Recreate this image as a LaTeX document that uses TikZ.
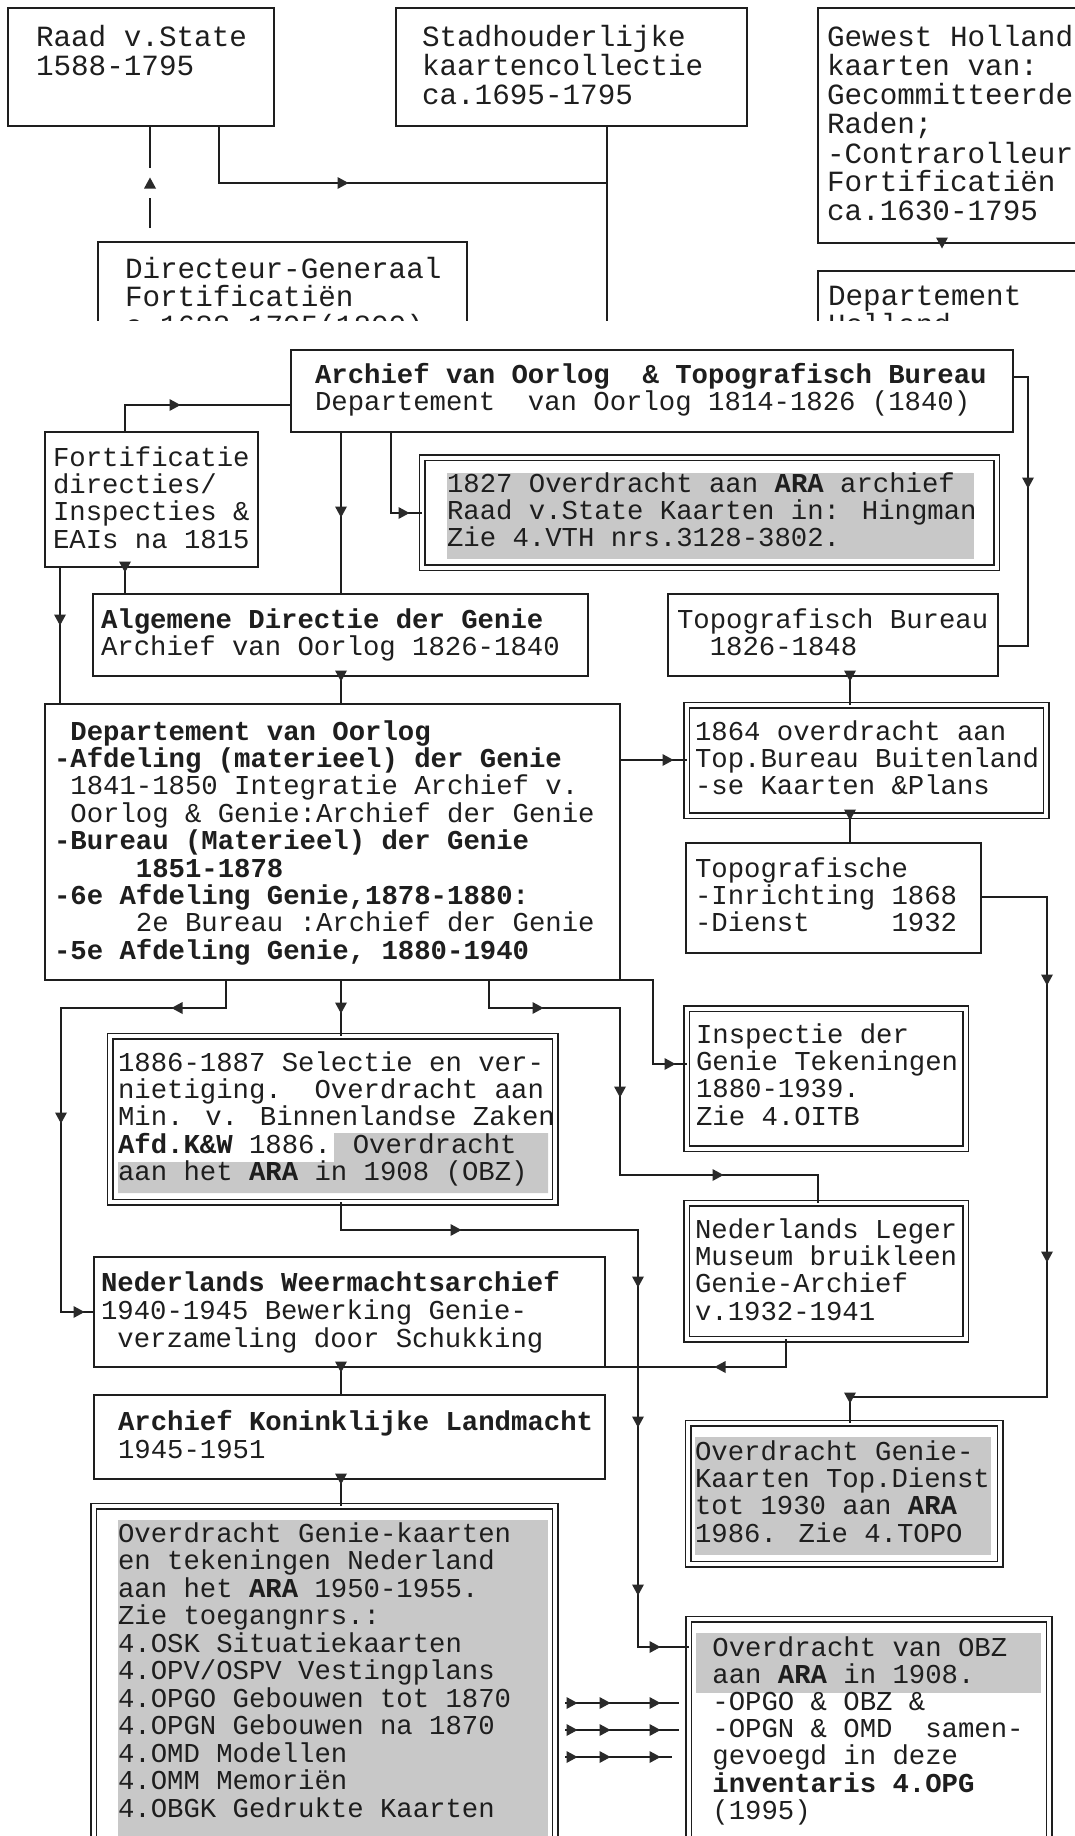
\documentclass[tikz,border=0pt]{standalone}
\usepackage{fontspec}
\newfontfamily\cour{Liberation Mono}
\definecolor{lc}{HTML}{1E1E1E}
\definecolor{tipc}{HTML}{2A2A2A}
\definecolor{shdc}{HTML}{C8C8C8}
\newcommand\mkbox[6][box]{\node[#1, minimum width={(#5-#3)*1pt}, minimum height={(#6-#4)*1pt}] (#2) at (#3,#4) {};}
\newcommand\TBlock[2][27.4]{\vtop{\baselineskip=#1pt\lineskiplimit=-1000pt\lineskip=0pt #2}}
\newcommand\Lline[1]{\hbox{#1}}
\tikzset{
 box/.style={draw=lc, line width=2pt, anchor=north west, inner sep=0pt, outer sep=0pt},
 dbox/.style={box, line width=1.5pt, double=white, double distance=4pt},
 conn/.style={draw=lc, line width=1.8pt},
 shd/.style={fill=shdc},
 txt/.style={anchor=base west, inner sep=0pt, outer sep=0pt, text=lc, font=\cour\fontsize{27.3pt}{27.4pt}\selectfont},
 txtbig/.style={txt, font=\cour\fontsize{29.3pt}{29pt}\selectfont},
 td/.pic={\fill[tipc] (0,5.5) -- (-6,-5.5) -- (6,-5.5) -- cycle;},
 tu/.pic={\fill[tipc] (0,-5.5) -- (-6,5.5) -- (6,5.5) -- cycle;},
 tr/.pic={\fill[tipc] (5.5,0) -- (-5.5,-6) -- (-5.5,6) -- cycle;},
 tl/.pic={\fill[tipc] (-5.5,0) -- (5.5,-6) -- (5.5,6) -- cycle;},
}
\begin{document}
\begin{tikzpicture}[x=1pt,y=-1pt]
\useasboundingbox (0,0) rectangle (1075,1836);
\clip (0,0) rectangle (1075,1836);
\fill[white] (0,0) rectangle (1075,1836);

% ---------------- top fragment ----------------
\begin{scope}
\clip (0,0) rectangle (1075,320);
\mkbox{raad}{8}{8}{274}{126}
\mkbox{stad}{396}{8}{747}{126}
\mkbox{gew}{818}{8}{1090}{243}
\mkbox{dir}{98}{242}{467}{420}
\mkbox{deph}{818}{271}{1090}{420}
\draw[conn] (raad.south -| 150,0) -- (150,168);
\draw[conn] (dir.north -| 150,0) ++(0,-14) -- (150,198);
\draw[conn] (raad.south -| 219,0) |- (607,183);
\draw[conn] (stad.south -| 607,0) -- (607,330);
\pic at (150,183) {tu};
\pic at (343,183) {tr};
\pic at (942,243) {td};
\node[txtbig] (traad) at (36,47) {\TBlock[29]{\Lline{Raad v.State}\Lline{1588-1795}}};
\node[txtbig] (tstad) at (422,47) {\TBlock[29]{\Lline{Stadhouderlijke}\Lline{kaartencollectie}\Lline{ca.1695-1795}}};
\node[txtbig] (tgew) at (827,47) {\TBlock[29]{\Lline{Gewest Holland}\Lline{kaarten van:}\Lline{Gecommitteerde}\Lline{Raden;}\Lline{-Contrarolleur}\Lline{Fortificatiën}\Lline{ca.1630-1795}}};
\node[txtbig] (tdir) at (125,278) {\TBlock[28.5]{\Lline{Directeur-Generaal}\Lline{Fortificatiën}\Lline{c.1688-1795(1800)}}};
\node[txtbig] (tdeph) at (828,305) {\TBlock[29]{\Lline{Departement}\Lline{Holland}}};
\end{scope}

% ---------------- shading ----------------
\fill[shd] (447,473) rectangle (974,559);
\fill[shd] (334,1133) -- (548,1133) -- (548,1193) -- (118,1193) -- (118,1162) -- (334,1162) -- cycle;
\fill[shd] (695,1437) rectangle (991,1555);
\fill[shd] (118,1520) rectangle (548,1900);
\fill[shd] (696,1633) rectangle (1041,1693);

% ---------------- boxes ----------------
\mkbox{avo}{291}{350}{1013}{432}
\mkbox{fort}{45}{432}{258}{567}
\mkbox[dbox]{b1827}{422.3}{457.8}{996.8}{567.5}
\mkbox{alg}{93}{594}{588}{676}
\mkbox{tb}{668}{594}{998}{676}
\mkbox{dep}{45}{704}{620}{980}
\mkbox[dbox]{b1864}{686.5}{705}{1046}{815.5}
\mkbox{tpf}{686}{843}{981}{953}
\mkbox[dbox]{b1886}{110.4}{1036}{555}{1202}
\mkbox[dbox]{insp}{686.5}{1008.5}{965.5}{1148.5}
\mkbox[dbox]{nlm}{686.5}{1203}{965.5}{1339}
\mkbox{weer}{94}{1257}{605}{1367}
\mkbox{akl}{94}{1395}{605}{1479}
\mkbox[dbox]{big}{93.6}{1506}{555}{1900}
\mkbox[dbox]{ot}{688}{1423}{1000}{1564}
\mkbox[dbox]{fin}{688.5}{1619}{1049}{1900}

% ---------------- connectors ----------------
\draw[conn] ([xshift=80pt]fort.north west) |- (avo.west |- 0,405);
\draw[conn] (avo.east |- 0,377) -- (1028,377) |- (tb.east |- 0,646);
\draw[conn] (avo.south -| 341,0) -- (alg.north -| 341,0);
\draw[conn] (avo.south -| 391,0) |- (b1827.west |- 0,513);
\draw[conn] (fort.south -| 125,0) -- (alg.north -| 125,0);
\draw[conn] (fort.south -| 60,0) -- (dep.north -| 60,0);
\draw[conn] (alg.south -| 341,0) -- (dep.north -| 341,0);
\draw[conn] (tb.south -| 850,0) -- (b1864.north -| 850,0);
\draw[conn] (dep.east |- 0,760) -- (b1864.west |- 0,760);
\draw[conn] (b1864.south -| 850,0) -- (tpf.north -| 850,0);
\draw[conn] (tpf.east |- 0,897) -- (1047,897) -- (1047,1397) -| (ot.north -| 850,0);
\draw[conn] (dep.south -| 226,0) |- (61,1008) |- (weer.west |- 0,1312);
\draw[conn] (dep.south -| 341,0) -- (b1886.north -| 341,0);
\draw[conn] (dep.south -| 489,0) |- (620,1008) |- (818,1175) -- (nlm.north -| 818,0);
\draw[conn] (dep.south east) -- (653,980) |- (insp.west |- 0,1064);
\draw[conn] (b1886.south -| 341,0) |- (638,1230) |- (fin.west |- 0,1647);
\draw[conn] (nlm.south -| 786,0) |- (weer.south east);
\draw[conn] (weer.south -| 341,0) -- (akl.north -| 341,0);
\draw[conn] (akl.south -| 341,0) -- (big.north -| 341,0);
\foreach \yy/\xe in {1703/679,1730/679,1757/672}
  \draw[conn] (big.east |- 0,\yy) ++(10,0) -- (\xe,\yy);

% ---------------- arrow marks ----------------
\pic at (175,405) {tr};
\pic at (1028,483) {td};
\pic at (341,512) {td};
\pic at (404,513) {tr};
\pic at (125,567) {td};
\pic at (60,620) {td};
\pic at (341,676) {td};
\pic at (850,676) {td};
\pic at (668,760) {tr};
\pic at (850,815) {td};
\pic at (1047,980) {td};
\pic at (1047,1257) {td};
\pic at (850,1398) {td};
\pic at (177,1008) {tl};
\pic at (61,1118) {td};
\pic at (79,1312) {tr};
\pic at (341,1008) {td};
\pic at (538,1008) {tr};
\pic at (620,1092) {td};
\pic at (718,1175) {tr};
\pic at (670,1064) {tr};
\pic at (456,1230) {tr};
\pic at (638,1282) {td};
\pic at (638,1422) {td};
\pic at (638,1590) {td};
\pic at (655,1647) {tr};
\pic at (720,1367) {tl};
\pic at (341,1367) {td};
\pic at (341,1479) {td};
\foreach \yy in {1703,1730,1757} {
  \pic at (572,\yy) {tr};
  \pic at (605,\yy) {tr};
  \pic at (655,\yy) {tr};
}

% ---------------- texts ----------------
\node[txt] (tavo) at (315,383) {\TBlock{\Lline{\bfseries Archief van Oorlog~~\&~Topografisch Bureau}\Lline{Departement~~van Oorlog 1814-1826 (1840)}}};
\node[txt] (tfort) at (53,466) {\TBlock{\Lline{Fortificatie}\Lline{directies/}\Lline{Inspecties \&}\Lline{EAIs na 1815}}};
\node[txt] (tb1827) at (447,492) {\TBlock{\Lline{1827 Overdracht aan \textbf{ARA} archief}\Lline{Raad v.State Kaarten in: Hingman}\Lline{Zie 4.VTH nrs.3128-3802.}}};
\node[txt] (talg) at (101,628) {\TBlock{\Lline{\bfseries Algemene Directie der Genie}\Lline{Archief van Oorlog 1826-1840}}};
\node[txt] (ttb) at (677,628) {\TBlock{\Lline{Topografisch Bureau}\Lline{~~1826-1848}}};
\node[txt] (tdep) at (54,740) {\TBlock{%
 \Lline{\bfseries ~Departement van Oorlog}%
 \Lline{\bfseries -Afdeling (materieel) der Genie}%
 \Lline{~1841-1850 Integratie Archief v.}%
 \Lline{~Oorlog \& Genie:Archief der Genie}%
 \Lline{\bfseries -Bureau (Materieel) der Genie}%
 \Lline{\bfseries ~~~~~1851-1878}%
 \Lline{\bfseries -6e Afdeling Genie,1878-1880:}%
 \Lline{~~~~~2e Bureau :Archief der Genie}%
 \Lline{\bfseries -5e Afdeling Genie, 1880-1940}}};
\node[txt] (tb1864) at (695,740) {\TBlock{\Lline{1864 overdracht aan}\Lline{Top.Bureau Buitenland}\Lline{-se Kaarten \&Plans}}};
\node[txt] (ttpf) at (695,877) {\TBlock{\Lline{Topografische}\Lline{-Inrichting 1868}\Lline{-Dienst~~~~~1932}}};
\node[txt] (tinsp) at (696,1043) {\TBlock{\Lline{Inspectie der}\Lline{Genie Tekeningen}\Lline{1880-1939.}\Lline{Zie 4.OITB}}};
\node[txt] (tb1886) at (118,1071) {\TBlock{\Lline{1886-1887 Selectie en ver-}\Lline{nietiging.~~Overdracht aan}\Lline{Min. v. Binnenlandse Zaken}\Lline{\textbf{Afd.K\&W} 1886. Overdracht}\Lline{aan het \textbf{ARA} in 1908 (OBZ)}}};
\node[txt] (tnlm) at (695,1238) {\TBlock{\Lline{Nederlands Leger}\Lline{Museum bruikleen}\Lline{Genie-Archief}\Lline{v.1932-1941}}};
\node[txt] (tweer) at (101,1291) {\TBlock[28]{\Lline{\bfseries Nederlands Weermachtsarchief}\Lline{1940-1945 Bewerking Genie-}\Lline{~verzameling door Schukking}}};
\node[txt] (takl) at (118,1430) {\TBlock[28]{\Lline{\bfseries Archief Koninklijke Landmacht}\Lline{1945-1951}}};
\node[txt] (tot) at (695,1460) {\TBlock{\Lline{Overdracht Genie-}\Lline{Kaarten Top.Dienst}\Lline{tot 1930 aan \textbf{ARA}}\Lline{1986. Zie 4.TOPO}}};
\node[txt] (tbig) at (118,1542) {\TBlock[27.5]{%
 \Lline{Overdracht Genie-kaarten}%
 \Lline{en tekeningen Nederland}%
 \Lline{aan het \textbf{ARA} 1950-1955.}%
 \Lline{Zie toegangnrs.:}%
 \Lline{4.OSK Situatiekaarten}%
 \Lline{4.OPV/OSPV Vestingplans}%
 \Lline{4.OPGO Gebouwen tot 1870}%
 \Lline{4.OPGN Gebouwen na 1870}%
 \Lline{4.OMD Modellen}%
 \Lline{4.OMM Memoriën}%
 \Lline{4.OBGK Gedrukte Kaarten}}};
\node[txt] (tfin) at (696,1656) {\TBlock[27.2]{%
 \Lline{~Overdracht van OBZ}%
 \Lline{~aan \textbf{ARA} in 1908.}%
 \Lline{~-OPGO \& OBZ \&}%
 \Lline{~-OPGN \& OMD~~samen-}%
 \Lline{~gevoegd in deze}%
 \Lline{\bfseries ~inventaris 4.OPG}%
 \Lline{~(1995)}}};
\end{tikzpicture}
\end{document}
